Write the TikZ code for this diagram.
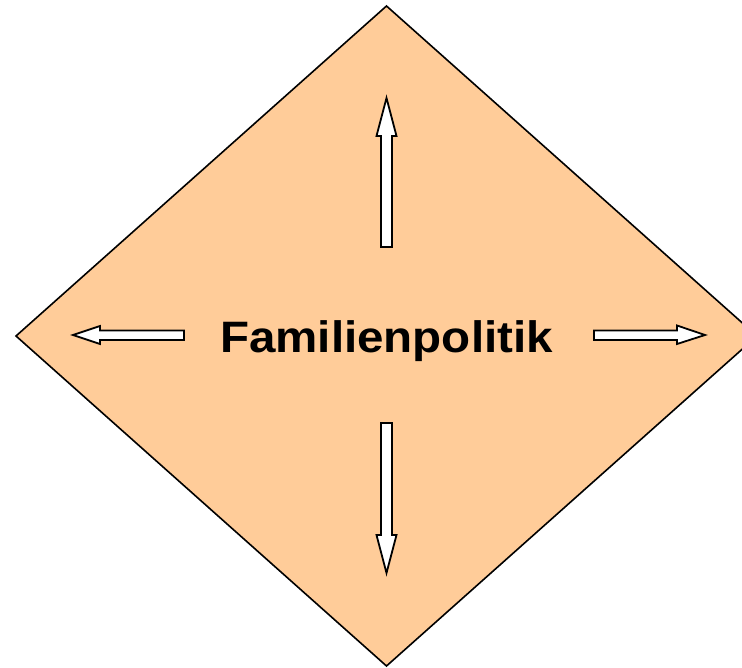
\documentclass[tikz,border=0pt]{standalone}
\usepackage{fontspec}
\setmainfont{Liberation Sans}
\definecolor{peach}{HTML}{FFCC99}
\begin{document}
\begin{tikzpicture}[x=1pt,y=-1pt,
  diamondshape/.style={fill=peach,draw=black,line width=1.6pt,line join=miter},
  blockarrow/.style={fill=white,draw=black,line width=1.8pt,line join=miter},
  label/.style={font=\fontsize{44}{50}\selectfont\bfseries,inner sep=0pt,anchor=base}]
\useasboundingbox (0,0) rectangle (742,668);
\clip (0,0) rectangle (742,668);
\coordinate (c) at (386.5,336);
\draw[diamondshape] (386.5,6) -- (757,336) -- (386.5,666) -- (16,336) -- cycle;
\node[label,xscale=1.08] (t) at (386.5,353) {Familienpolitik};
% up
\draw[blockarrow] (381,247) -- (381,136) -- (376.5,136) -- (386.5,98) -- (396.5,136) -- (392,136) -- (392,247) -- cycle;
% down
\draw[blockarrow] (381,423) -- (381,535) -- (376.5,535) -- (386.5,573) -- (396.5,535) -- (392,535) -- (392,423) -- cycle;
% left
\draw[blockarrow] (184,330.5) -- (100,330.5) -- (100,326) -- (73,335) -- (100,344) -- (100,340) -- (184,340) -- cycle;
% right
\draw[blockarrow] (594,330.5) -- (677,330.5) -- (677,325.5) -- (705,335) -- (677,344) -- (677,340) -- (594,340) -- cycle;
\end{tikzpicture}
\end{document}
